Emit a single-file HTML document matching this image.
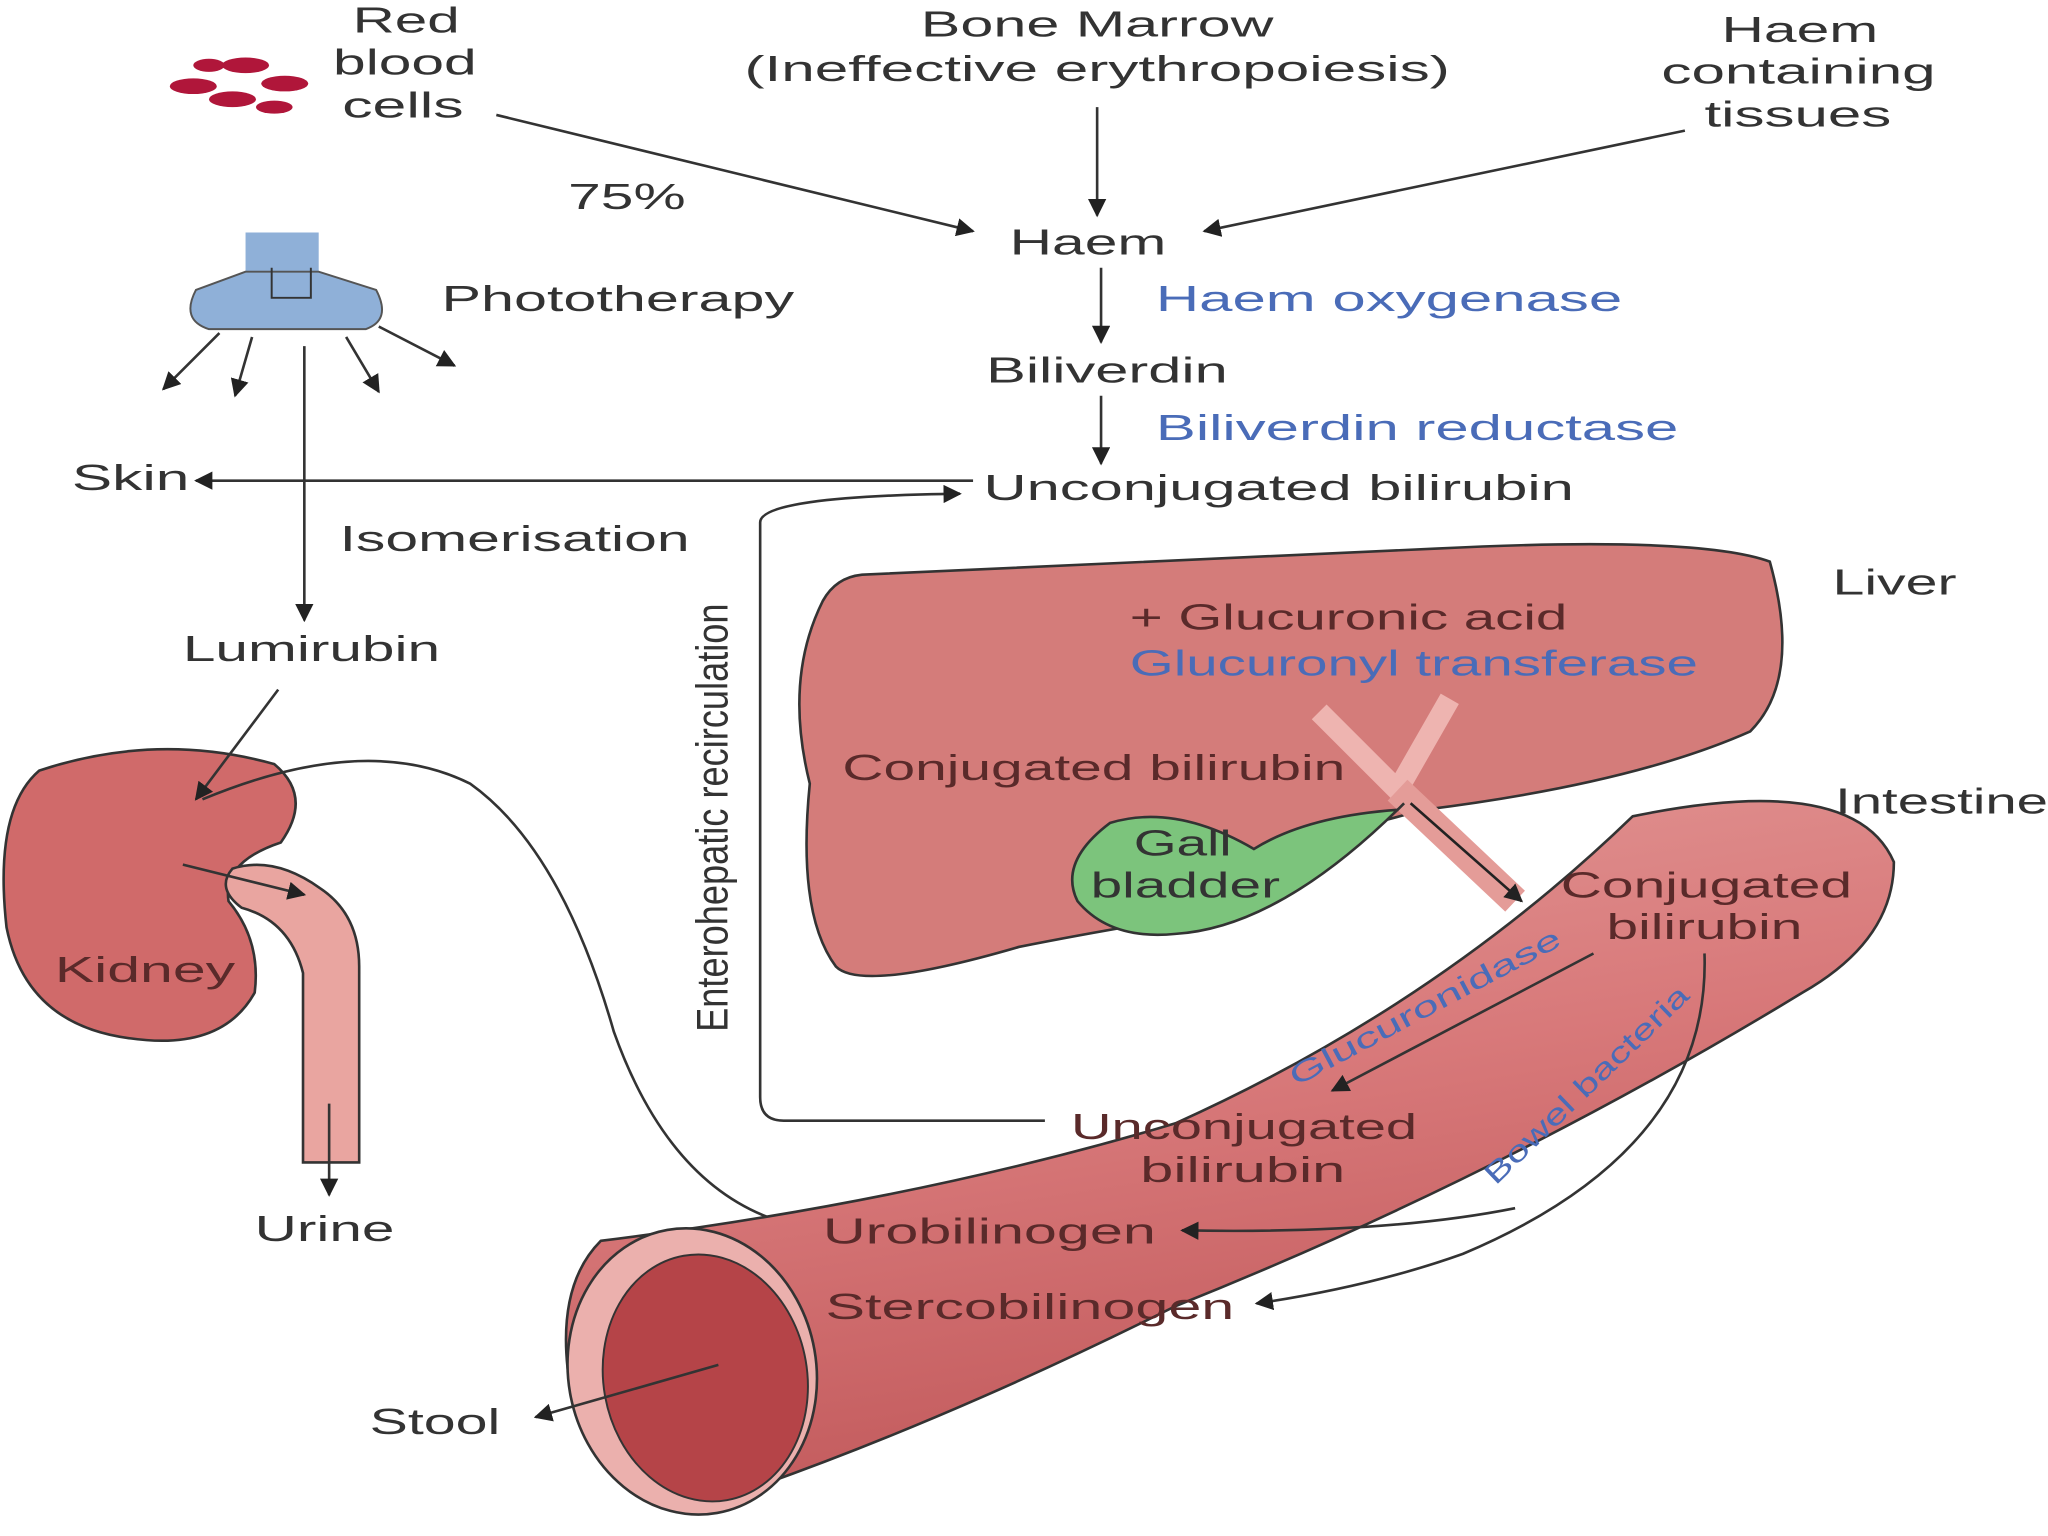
<!DOCTYPE html>
<html><head><meta charset="utf-8"><style>
html,body{margin:0;padding:0;background:#fff}
svg{display:block}
text{font-family:"Liberation Sans",sans-serif;fill:#333}
.b{fill:#4a6cb8}
.dr{fill:#5a2a2a}
</style></head><body>
<svg width="2048" height="1536" viewBox="0 0 1568 1176" xmlns="http://www.w3.org/2000/svg">
<defs>
<marker id="a" viewBox="0 0 10 10" refX="9" refY="5" markerWidth="7" markerHeight="7" orient="auto-start-reverse"><path d="M0,0 L10,5 L0,10 z" fill="#222"/></marker>
<linearGradient id="tube" x1="0" y1="0" x2="0.3" y2="1"><stop offset="0" stop-color="#e39a98"/><stop offset="0.5" stop-color="#d8797a"/><stop offset="1" stop-color="#c25a5c"/></linearGradient>
</defs>
<g fill="#b0163a">
<ellipse cx="148" cy="66" rx="18" ry="6"/><ellipse cx="188" cy="50" rx="18" ry="6"/><ellipse cx="178" cy="76" rx="18" ry="6"/><ellipse cx="218" cy="64" rx="18" ry="6"/><ellipse cx="210" cy="82" rx="14" ry="5"/><ellipse cx="160" cy="50" rx="12" ry="5"/>
</g>
<g font-size="28">
<text x="270" y="25" textLength="82" lengthAdjust="spacingAndGlyphs">Red</text>
<text x="255" y="57" textLength="110" lengthAdjust="spacingAndGlyphs">blood</text>
<text x="262" y="90" textLength="93" lengthAdjust="spacingAndGlyphs">cells</text>
<text x="705" y="28" textLength="270" lengthAdjust="spacingAndGlyphs">Bone Marrow</text>
<text x="570" y="62" textLength="540" lengthAdjust="spacingAndGlyphs">(Ineffective erythropoiesis)</text>
<text x="1318" y="32" textLength="120" lengthAdjust="spacingAndGlyphs">Haem</text>
<text x="1272" y="64" textLength="210" lengthAdjust="spacingAndGlyphs">containing</text>
<text x="1305" y="97" textLength="143" lengthAdjust="spacingAndGlyphs">tissues</text>
<text x="435" y="160" textLength="90" lengthAdjust="spacingAndGlyphs">75%</text>
<text x="773" y="195" textLength="120" lengthAdjust="spacingAndGlyphs">Haem</text>
<text class="b" x="885" y="238" textLength="357" lengthAdjust="spacingAndGlyphs">Haem oxygenase</text>
<text x="755" y="293" textLength="185" lengthAdjust="spacingAndGlyphs">Biliverdin</text>
<text class="b" x="885" y="337" textLength="400" lengthAdjust="spacingAndGlyphs">Biliverdin reductase</text>
<text x="753" y="383" textLength="452" lengthAdjust="spacingAndGlyphs">Unconjugated bilirubin</text>
<text x="55" y="375" textLength="90" lengthAdjust="spacingAndGlyphs">Skin</text>
<text x="338" y="238" textLength="270" lengthAdjust="spacingAndGlyphs">Phototherapy</text>
<text x="260" y="422" textLength="268" lengthAdjust="spacingAndGlyphs">Isomerisation</text>
<text x="140" y="506" textLength="197" lengthAdjust="spacingAndGlyphs">Lumirubin</text>
</g>
<text x="557" y="790" font-size="34" transform="rotate(-90 557 790)" textLength="328" lengthAdjust="spacingAndGlyphs">Enterohepatic recirculation</text>
<g stroke="#333" stroke-width="2" fill="none" marker-end="url(#a)">
<line x1="380" y1="88" x2="745" y2="177"/>
<line x1="840" y1="82" x2="840" y2="165"/>
<line x1="1290" y1="100" x2="922" y2="177"/>
<line x1="843" y1="205" x2="843" y2="262"/>
<line x1="843" y1="303" x2="843" y2="355"/>
<line x1="745" y1="368" x2="150" y2="368"/>
<line x1="233" y1="265" x2="233" y2="475"/>
<path d="M800,858 L600,858 Q582,858 582,840 L582,400 Q582,380 735,378"/>
<line x1="840" y1="450" x2="840" y2="568"/>
</g>
<rect x="188" y="178" width="56" height="35" fill="#8fb0d8"/>
<path d="M188,208 L150,222 Q138,245 160,252 L280,252 Q300,245 288,222 L244,208 z" fill="#8fb0d8" stroke="#555" stroke-width="1.5"/>
<path d="M208,205 L208,228 L238,228 L238,205" stroke="#333" fill="none" stroke-width="1.5"/>
<g stroke="#333" stroke-width="2" marker-end="url(#a)">
<line x1="168" y1="255" x2="125" y2="298"/><line x1="193" y1="258" x2="180" y2="303"/><line x1="265" y1="258" x2="290" y2="300"/><line x1="290" y1="250" x2="348" y2="280"/>
</g>
<path d="M30,590 Q120,560 210,585 Q240,610 215,645 Q170,660 175,690 Q200,720 195,760 Q170,805 100,795 Q20,785 5,710 Q-5,620 30,590 z" fill="#d06a6a" stroke="#333" stroke-width="2"/>
<path d="M178,665 Q210,655 245,680 Q275,700 275,740 L275,890 L232,890 L232,745 Q222,705 185,695 Q165,680 178,665 z" fill="#e9a5a0" stroke="#333" stroke-width="2"/>
<text x="42" y="752" font-size="28" class="dr" textLength="138" lengthAdjust="spacingAndGlyphs">Kidney</text>
<g stroke="#333" stroke-width="2" fill="none" marker-end="url(#a)">
<line x1="213" y1="528" x2="150" y2="612"/>
<line x1="140" y1="662" x2="233" y2="685"/>
<line x1="252" y1="845" x2="252" y2="915"/>
<path d="M155,612 Q280,560 360,600 Q430,650 470,790 Q520,930 630,942"/>
</g>
<text x="195" y="950" font-size="28" textLength="107" lengthAdjust="spacingAndGlyphs">Urine</text>
<path d="M660,440 Q900,430 1100,420 Q1300,410 1355,430 Q1380,520 1340,560 Q1250,600 1090,620 Q980,650 900,665 L890,705 Q830,715 780,725 Q660,760 640,740 Q610,700 620,600 Q600,520 630,460 Q640,442 660,440 z" fill="#d47c7a" stroke="#333" stroke-width="2"/>
<path d="M1010,545 L1070,605 L1110,535" stroke="#eeb4b0" stroke-width="16" fill="none"/>
<path d="M1070,605 L1160,690" stroke="#e49c98" stroke-width="22"/>
<path d="M1070,620 Q1000,625 960,650 Q900,615 850,630 Q810,660 825,690 Q850,720 900,715 Q980,710 1075,615 z" fill="#7cc47c" stroke="#333" stroke-width="2"/>
<g font-size="28">
<text x="868" y="655" fill="#123" textLength="75" lengthAdjust="spacingAndGlyphs">Gall</text>
<text x="835" y="687" fill="#123" textLength="145" lengthAdjust="spacingAndGlyphs">bladder</text>
<text x="1403" y="455" textLength="95" lengthAdjust="spacingAndGlyphs">Liver</text>
<text x="865" y="482" class="dr" textLength="335" lengthAdjust="spacingAndGlyphs">+ Glucuronic acid</text>
<text class="b" x="865" y="517" textLength="435" lengthAdjust="spacingAndGlyphs">Glucuronyl transferase</text>
<text x="645" y="597" class="dr" textLength="385" lengthAdjust="spacingAndGlyphs">Conjugated bilirubin</text>
</g>
<path d="M460,950 Q700,920 900,860 Q1100,770 1250,625 Q1420,590 1450,660 Q1450,720 1380,760 Q1150,900 900,1000 Q720,1090 560,1145 Q470,1150 440,1080 Q420,990 460,950 z" fill="url(#tube)" stroke="#333" stroke-width="2"/>
<ellipse cx="530" cy="1050" rx="95" ry="110" fill="#ebb0ad" stroke="#333" stroke-width="2" transform="rotate(-10 530 1050)"/>
<ellipse cx="540" cy="1055" rx="78" ry="95" fill="#b54448" stroke="#333" stroke-width="1.5" transform="rotate(-10 540 1055)"/>
<line x1="1080" y1="615" x2="1165" y2="690" stroke="#222" stroke-width="2" marker-end="url(#a)"/>
<g font-size="28">
<text x="1405" y="623" textLength="163" lengthAdjust="spacingAndGlyphs">Intestine</text>
<text x="1195" y="687" class="dr" textLength="223" lengthAdjust="spacingAndGlyphs">Conjugated</text>
<text x="1230" y="719" class="dr" textLength="150" lengthAdjust="spacingAndGlyphs">bilirubin</text>
<text x="820" y="872" class="dr" textLength="265" lengthAdjust="spacingAndGlyphs">Unconjugated</text>
<text x="873" y="905" class="dr" textLength="157" lengthAdjust="spacingAndGlyphs">bilirubin</text>
<text x="630" y="952" class="dr" textLength="255" lengthAdjust="spacingAndGlyphs">Urobilinogen</text>
<text x="632" y="1010" class="dr" textLength="313" lengthAdjust="spacingAndGlyphs">Stercobilinogen</text>
<text x="283" y="1098" textLength="100" lengthAdjust="spacingAndGlyphs">Stool</text>
</g>
<text class="b" x="992" y="832" font-size="22" transform="rotate(-28 992 832)" textLength="232" lengthAdjust="spacingAndGlyphs">Glucuronidase</text>
<text class="b" x="1145" y="908" font-size="22" transform="rotate(-44 1145 908)" textLength="208" lengthAdjust="spacingAndGlyphs">Bowel bacteria</text>
<g stroke="#333" stroke-width="2" fill="none" marker-end="url(#a)">
<line x1="1220" y1="730" x2="1020" y2="835"/>
<path d="M1305,730 Q1310,880 1120,960 Q1050,985 962,998"/>
<path d="M1160,925 Q1060,945 905,942"/>
<line x1="550" y1="1045" x2="410" y2="1085"/>
</g>
</svg>
</body></html>
